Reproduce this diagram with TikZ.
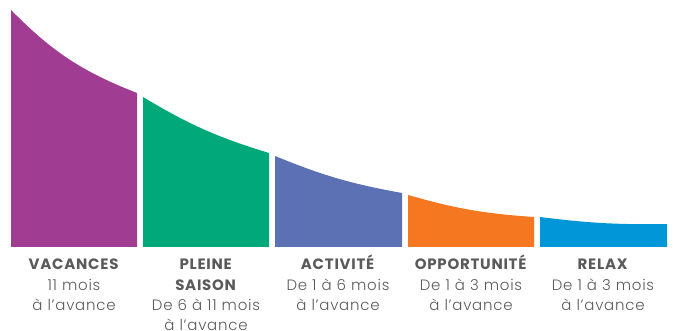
\documentclass[tikz,border=0pt]{standalone}
\usepackage{fontspec}
\setmainfont{Poppins}[UprightFont=* Light, BoldFont=* Bold, LetterSpace=5]
\definecolor{vacpurple}{HTML}{A03D92}
\definecolor{pleingreen}{HTML}{00A87A}
\definecolor{actblue}{HTML}{5C70B4}
\definecolor{oppsorange}{HTML}{F57820}
\definecolor{relaxcyan}{HTML}{0096D7}
\definecolor{textgray}{HTML}{5A5A5A}
\begin{document}
\begin{tikzpicture}[x=1pt,y=1pt]
        \tikzset{
            label_text/.style={font=\fontsize{15}{20.3}\selectfont, text=textgray,
                text width=135pt, align=center, anchor=base, inner sep=0pt}
        }
        \useasboundingbox (0,0) rectangle (673,331);

        \fill[vacpurple] (11,84) -- (11,321) to[bend right=12] (137,238) -- (137,84) -- cycle;
        \fill[pleingreen] (143,84) -- (143,234) to[bend right=7] (269,178) -- (269,84) -- cycle;
        \fill[actblue] (275,84) -- (275,175) to[bend right=6] (402,138) -- (402,84) -- cycle;
        \fill[oppsorange] (408,84) -- (408,136) to[bend right=6] (534,114) -- (534,84) -- cycle;
        \fill[relaxcyan] (540,84) -- (540,114) to[bend right=4] (667,107) -- (667,84) -- cycle;

        \node[label_text] (vacances) at (74,61) {\textbf{VACANCES}\\11 mois\\à l’avance};
        \node[label_text] (pleine) at (206,61) {\textbf{PLEINE}\\\textbf{SAISON}\\De 6 à 11 mois\\à l’avance};
        \node[label_text] (activite) at (338,61) {\textbf{ACTIVITÉ}\\De 1 à 6 mois\\à l’avance};
        \node[label_text] (opportunite) at (471,61) {\textbf{OPPORTUNITÉ}\\De 1 à 3 mois\\à l’avance};
        \node[label_text] (relax) at (603,61) {\textbf{RELAX}\\De 1 à 3 mois\\à l’avance};
    \end{tikzpicture}
\end{document}
